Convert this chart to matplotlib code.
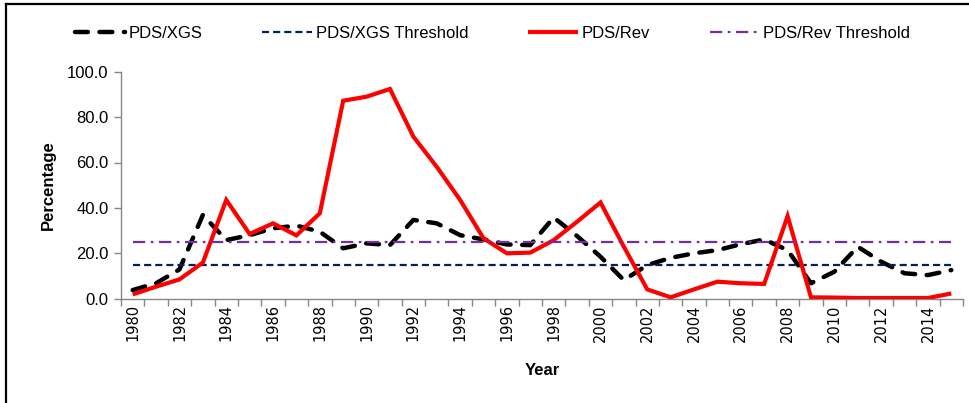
import matplotlib
matplotlib.use("Agg")
import matplotlib.pyplot as plt
from matplotlib.lines import Line2D
from matplotlib.ticker import FixedLocator, FuncFormatter

years = list(range(1980, 2016))
pds_xgs = [3.8, 6.8, 12.9, 36.9, 25.8, 28.0, 31.0, 32.2, 29.5, 22.2, 24.4, 23.6,
           34.7, 33.2, 28.0, 26.1, 23.9, 23.6, 35.8, 27.6, 18.5, 8.2, 14.8, 18.0,
           20.0, 21.4, 24.0, 26.1, 21.4, 6.8, 11.9, 22.9, 16.3, 11.2, 10.4, 12.6]
pds_rev = [1.9, 5.3, 8.5, 15.9, 43.5, 28.5, 33.2, 27.9, 37.6, 87.2, 89.0, 92.4,
           71.4, 58.1, 43.5, 26.6, 20.0, 20.3, 25.8, 33.9, 42.4, 22.9, 4.1, 0.6,
           4.1, 7.5, 6.8, 6.5, 36.4, 0.6, 0.5, 0.3, 0.3, 0.3, 0.3, 2.3]
xgs_threshold = [15.0] * len(years)
rev_threshold = [25.0] * len(years)
yticks = [0, 20, 40, 60, 80, 100]

W, H = 970, 403
fig = plt.figure(figsize=(W / 100, H / 100), dpi=100)
ax = fig.add_axes([121 / W, 1 - 298.7 / H, (963 - 121) / W, (298.7 - 71.7) / H])

x = list(range(len(years)))
l1, = ax.plot(x, pds_xgs, color="black", lw=3.2, linestyle=(0, (2.9, 2.6)),
              dash_capstyle="round", label="PDS/XGS", zorder=3)
l2, = ax.plot(x, xgs_threshold, color="#002060", lw=1.6, linestyle=(0, (3.2, 1.8)),
              label="PDS/XGS Threshold", zorder=3)
l3, = ax.plot(x, pds_rev, color="#FF0000", lw=3.0, solid_capstyle="butt",
              solid_joinstyle="miter", label="PDS/Rev", zorder=4)
l4, = ax.plot(x, rev_threshold, color="#7030A0", lw=1.6,
              linestyle=(0, (5.5, 2.5, 1.2, 2.5)), label="PDS/Rev Threshold", zorder=5)

ax.set_xlim(-0.5, len(years) - 0.5)
ax.set_ylim(0, 100)

for s in ["top", "right"]:
    ax.spines[s].set_visible(False)
for s in ["left", "bottom"]:
    ax.spines[s].set_color("#868686")
    ax.spines[s].set_linewidth(1.0)

ax.set_yticks(yticks)
ax.yaxis.set_major_formatter(FuncFormatter(lambda v, p: f"{v:.1f}"))
ax.tick_params(axis="y", direction="out", length=5, color="#868686", width=1,
               labelsize=12, pad=4)
for t in ax.get_yticklabels():
    t.set_fontfamily("Liberation Sans")

major = [i for i, y in enumerate(years) if y % 2 == 0]
ax.xaxis.set_major_locator(FixedLocator(major))
ax.set_xticklabels([str(years[i]) for i in major], rotation=90, fontsize=10.5,
                   fontfamily="DejaVu Sans")
ax.xaxis.set_minor_locator(FixedLocator([i - 0.5 for i in range(len(years) + 1)]))
ax.tick_params(axis="x", which="major", length=0, pad=4)
ax.tick_params(axis="x", which="minor", direction="out", length=5, color="#868686", width=1)

ax.set_ylabel("Percentage", fontsize=12, fontweight="bold", fontfamily="Liberation Sans",
              labelpad=8)
ax.set_xlabel("Year", fontsize=12, fontweight="bold", fontfamily="Liberation Sans",
              labelpad=15)

leg = fig.legend(handles=[l1, l2, l3, l4], loc="center",
                 bbox_to_anchor=(0.508, 1 - 33 / H), ncol=4, frameon=False,
                 prop={"family": "Liberation Sans", "size": 12},
                 handlelength=3.0, handletextpad=0.2, columnspacing=3.6)

# outer frame (left and top edges visible)
fig.add_artist(Line2D([6 / W, 6 / W], [0, 1 - 4 / H], transform=fig.transFigure,
                      color="black", lw=1.6))
fig.add_artist(Line2D([6 / W, 1], [1 - 4 / H, 1 - 4 / H], transform=fig.transFigure,
                      color="black", lw=1.6))

fig.savefig("out.png", dpi=100)
